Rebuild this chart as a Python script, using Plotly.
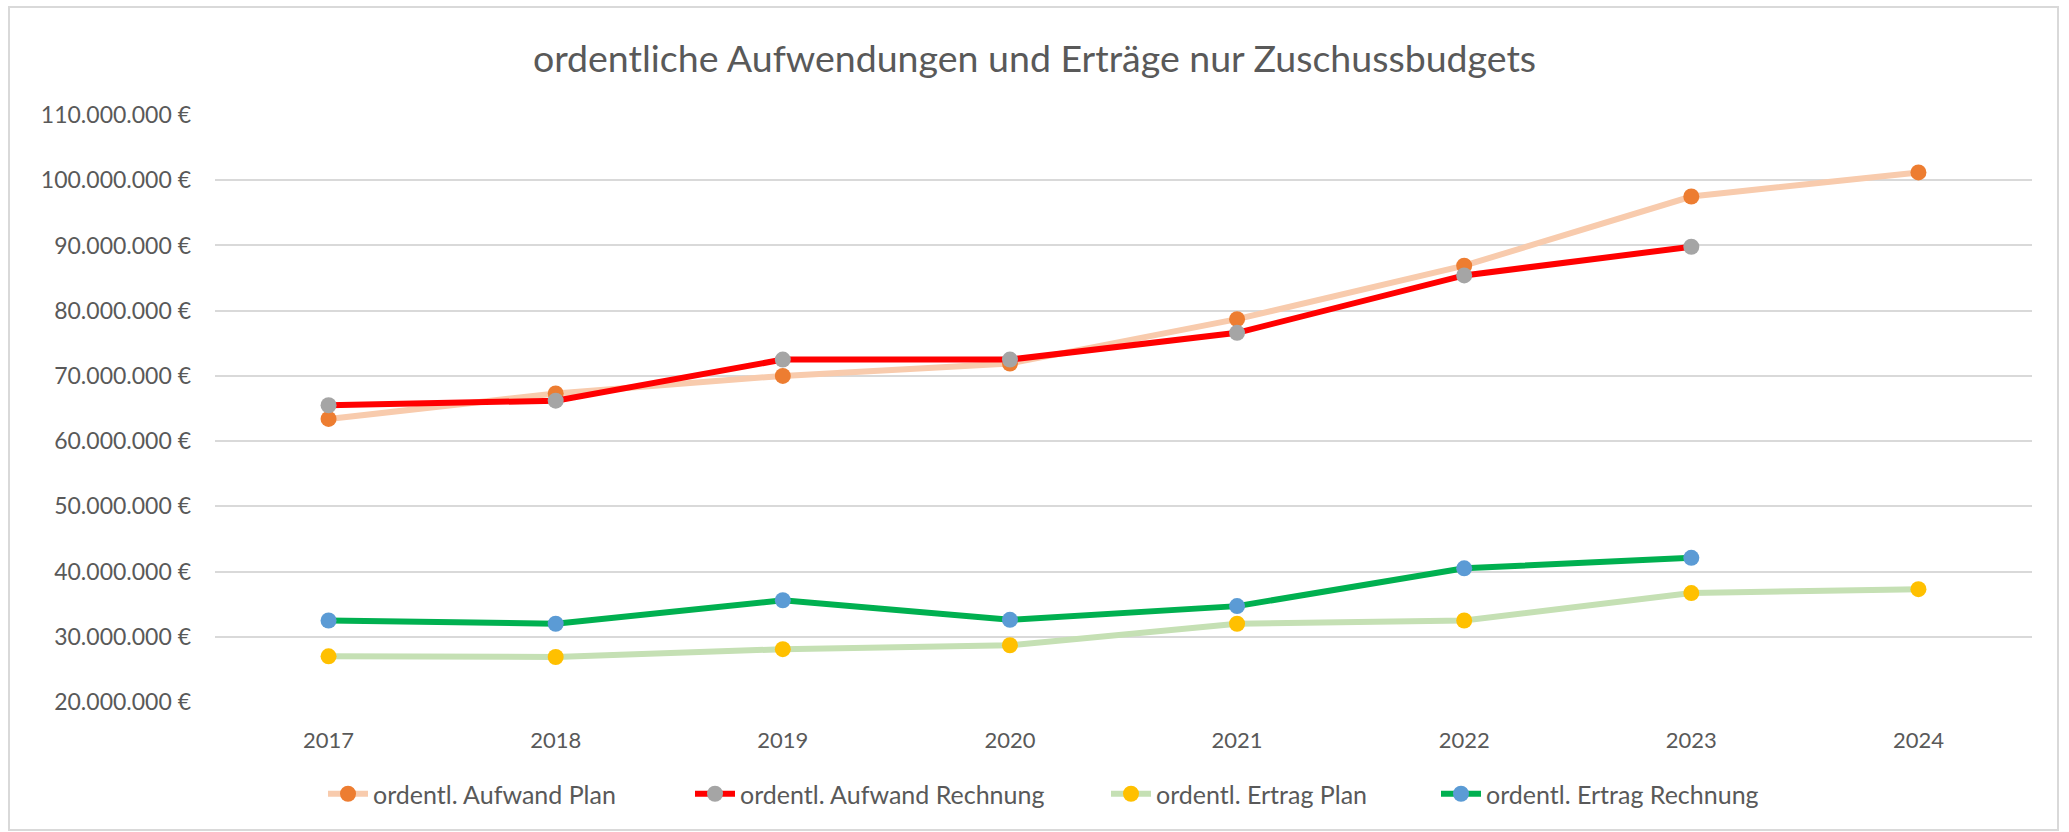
import plotly.graph_objects as go

years = ["2017", "2018", "2019", "2020", "2021", "2022", "2023", "2024"]
aufwand_plan = [63.4e6, 67.3e6, 70.0e6, 71.9e6, 78.7e6, 86.9e6, 97.5e6, 101.2e6]
aufwand_rechnung = [65.5e6, 66.2e6, 72.5e6, 72.5e6, 76.6e6, 85.4e6, 89.8e6, None]
ertrag_plan = [27.0e6, 26.9e6, 28.1e6, 28.7e6, 32.0e6, 32.5e6, 36.7e6, 37.3e6]
ertrag_rechnung = [32.5e6, 32.0e6, 35.6e6, 32.6e6, 34.7e6, 40.5e6, 42.1e6, None]
y_ticks = [20e6, 30e6, 40e6, 50e6, 60e6, 70e6, 80e6, 90e6, 100e6, 110e6]

series = [
    ("ordentl. Aufwand Plan", aufwand_plan, "#F8CBAD", "#ED7D31"),
    ("ordentl. Aufwand Rechnung", aufwand_rechnung, "#FF0000", "#A5A5A5"),
    ("ordentl. Ertrag Plan", ertrag_plan, "#C5E0B4", "#FFC000"),
    ("ordentl. Ertrag Rechnung", ertrag_rechnung, "#00B050", "#5B9BD5"),
]

FONT = "Lato"
TXT = "#595959"

W, H = 2069, 832
L, R, T, B = 215, 37, 115, 130
pw = W - L - R
ph = H - T - B

# legend item left positions (pixels)
legend_px = [323, 690, 1106, 1436]
legend_names = ["legend", "legend2", "legend3", "legend4"]

fig = go.Figure()
xs = list(range(len(years)))
for (name, vals, lc, mc), lg in zip(series, legend_names):
    fig.add_trace(go.Scatter(
        x=xs, y=vals, name=name, mode="lines+markers",
        line=dict(color=lc, width=6),
        marker=dict(color=mc, size=16, line=dict(width=0)),
        connectgaps=False, legend=lg,
    ))

def fmt(v):
    return f"{int(v):,}".replace(",", ".") + " €"

legends = {}
for lg, px in zip(legend_names, legend_px):
    legends[lg] = dict(orientation="h", x=(px - L) / pw, xanchor="left",
                       y=(702 - 794) / ph, yanchor="middle",
                       font=dict(size=25, color=TXT), itemwidth=40,
                       bgcolor="rgba(0,0,0,0)")

fig.update_layout(
    width=W, height=H,
    margin=dict(l=L, r=R, t=T, b=B),
    paper_bgcolor="white", plot_bgcolor="white",
    font=dict(family=FONT, color=TXT, size=22),
    title=dict(text="ordentliche Aufwendungen und Erträge nur Zuschussbudgets",
               x=0.5, xref="container", xanchor="center",
               y=1 - 59 / H, yref="container", yanchor="middle",
               font=dict(family=FONT, size=37.5, color=TXT)),
    xaxis=dict(range=[-0.5, 7.5], tickvals=xs, ticktext=years,
               showgrid=False, zeroline=False, showline=False,
               ticks="", ticklabelstandoff=23,
               tickfont=dict(size=22, color=TXT)),
    yaxis=dict(range=[20e6, 110e6], tickvals=y_ticks,
               ticktext=[fmt(v) for v in y_ticks],
               showgrid=True, gridcolor="#D9D9D9", gridwidth=2,
               zeroline=False, showline=False, ticks="",
               ticklabelstandoff=23,
               tickfont=dict(size=23, color=TXT)),
    showlegend=True,
    **legends,
)

fig.add_shape(type="rect", xref="paper", yref="paper",
              x0=(9 - L) / pw, x1=(2058 - L) / pw,
              y0=(702 - 830) / ph, y1=(702 - 7) / ph,
              line=dict(color="#D9D9D9", width=2), layer="below")

fig.write_html("out.html", config={"displayModeBar": False},
               post_script="document.body.style.margin='0';document.body.style.padding='0';")
